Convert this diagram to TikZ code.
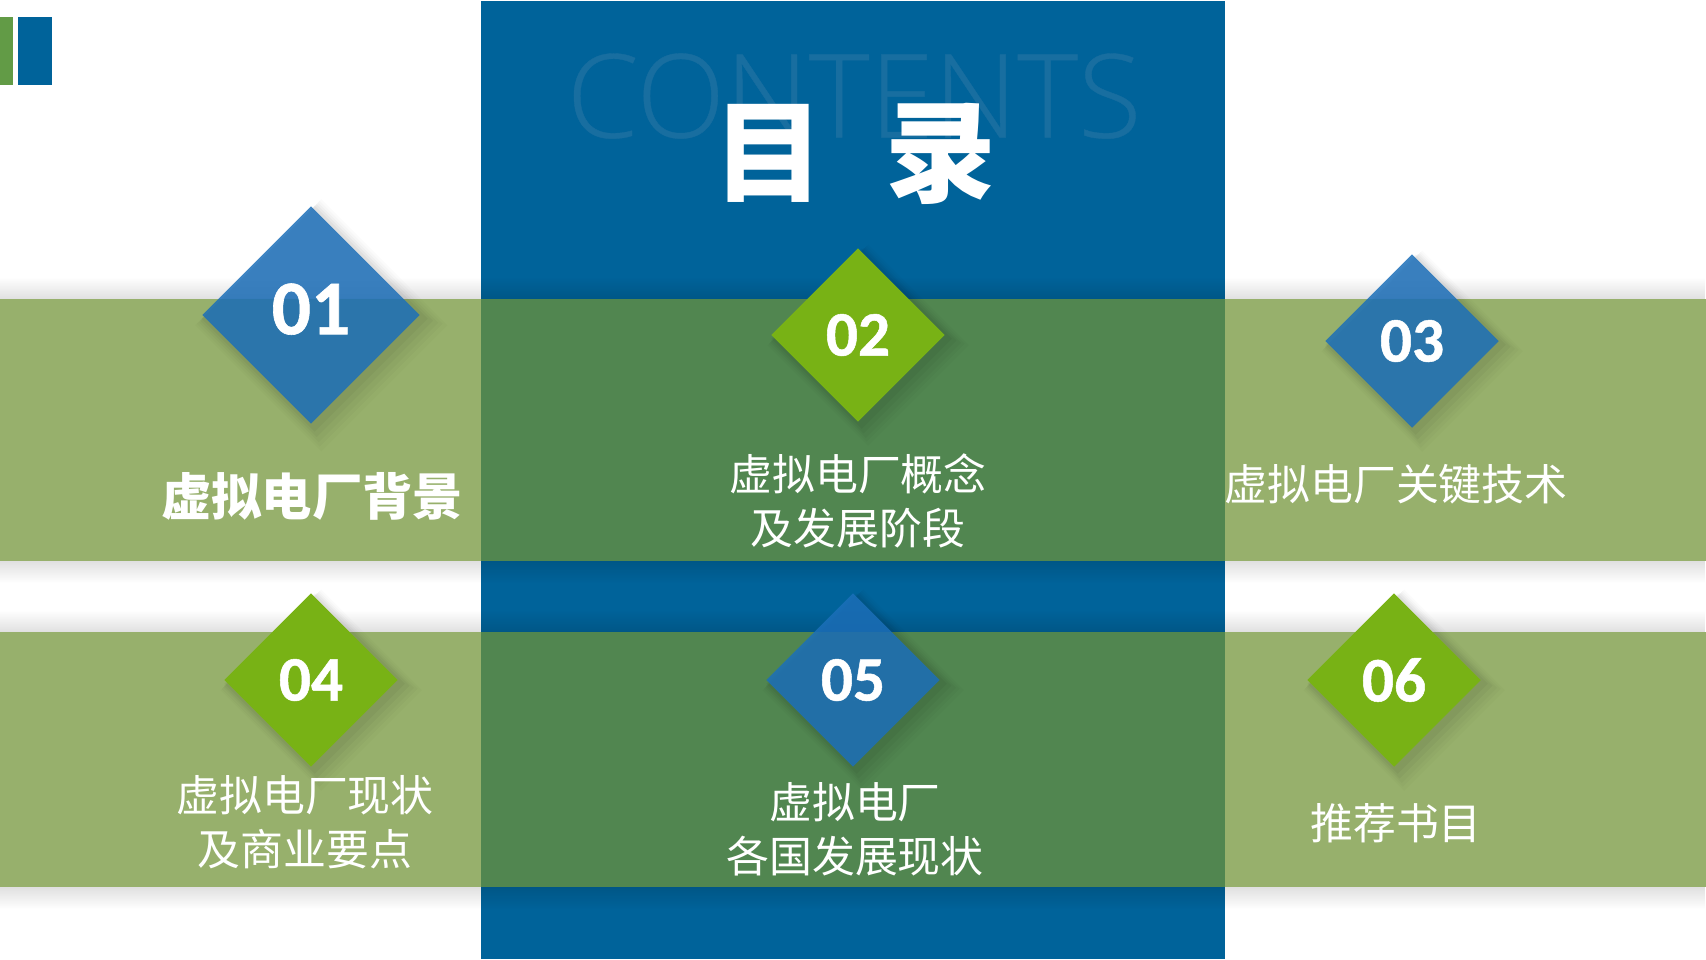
\documentclass[tikz,border=0pt]{standalone}
\usepackage{fontspec}
\setmainfont[BoldFeatures={FakeBold=.8}]{Carlito}
\newfontfamily\cjk{Noto Sans CJK SC}
\newfontfamily\light[FakeBold=.35]{Open Sans Light}
\usetikzlibrary{shapes.geometric,shadows,fadings}
\definecolor{colblue}{RGB}{0,99,154}
\definecolor{bandgreen}{RGB}{112,147,53}
\definecolor{tabgreen}{RGB}{98,155,70}
\definecolor{dblue}{RGB}{28,111,185}
\definecolor{dgreen}{RGB}{120,178,21}
\definecolor{ghost}{RGB}{24,110,160}
\tikzset{
softshadow/.style={
 general shadow={shadow xshift=2.5pt,shadow yshift=-2.5pt,shadow scale=1.16,fill=black,opacity=.015},
 general shadow={shadow xshift=2.2pt,shadow yshift=-2.2pt,shadow scale=1.13,fill=black,opacity=.02},
 general shadow={shadow xshift=2pt,shadow yshift=-2pt,shadow scale=1.10,fill=black,opacity=.025},
 general shadow={shadow xshift=1.5pt,shadow yshift=-1.5pt,shadow scale=1.07,fill=black,opacity=.03},
 general shadow={shadow xshift=1pt,shadow yshift=-1pt,shadow scale=1.04,fill=black,opacity=.04}},
gem/.style={shape=diamond,aspect=1,inner sep=0pt,softshadow,text=white,font=\bfseries\fontsize{18pt}{18pt}\selectfont},
biggem/.style={gem,font=\bfseries\fontsize{22pt}{22pt}\selectfont},
blue/.style={fill=dblue,fill opacity=.85,text opacity=1},
green/.style={fill=dgreen},
label/.style={text=white,align=center,font=\cjk\fontsize{12.2pt}{15.4pt}\selectfont}
}
\begin{document}
\begin{tikzpicture}[x=.01cm,y=-.01cm]
\useasboundingbox (0,0) rectangle (1706,959);
\fill[tabgreen] (0,17) rectangle (13,85);
\fill[colblue] (18,17) rectangle (52,85);
\fill[colblue] (481,1) rectangle (1225,959);
\node[text=ghost,font=\light\fontsize{33pt}{33pt}\selectfont] (contents) at (854,96) {CONTENTS};
\node[text=white,font=\cjk\bfseries\fontsize{31.5pt}{31.5pt}\selectfont] (title) at (855,154) {目\hspace{.55em}录};
% soft edges of the bands
\fill[black,opacity=.12,path fading=north] (0,277) rectangle (1706,299);
\fill[black,opacity=.12,path fading=south] (0,561) rectangle (1706,583);
\fill[black,opacity=.12,path fading=north] (0,610) rectangle (1706,632);
\fill[black,opacity=.12,path fading=south] (0,887) rectangle (1706,909);
\fill[bandgreen,fill opacity=.73] (0,299) rectangle (1706,561);
\fill[bandgreen,fill opacity=.73] (0,632) rectangle (1706,887);

\node[biggem,blue,minimum width=218*.01cm,minimum height=218*.01cm] (d1) at (311,315) {\raisebox{3.5pt}{01}};
\node[gem,green,minimum width=174*.01cm,minimum height=174*.01cm] (d2) at (858,335) {02};
\node[gem,blue,minimum width=174*.01cm,minimum height=174*.01cm] (d3) at (1412,341) {03};
\node[gem,green,minimum width=174*.01cm,minimum height=174*.01cm] (d4) at (311,680) {04};
\node[gem,blue,minimum width=174*.01cm,minimum height=174*.01cm] (d5) at (853,680) {05};
\node[gem,green,minimum width=174*.01cm,minimum height=174*.01cm] (d6) at (1394,680) {06};

\node[label,font=\cjk\bfseries\fontsize{14.3pt}{17pt}\selectfont] (l1) at (312,496) {虚拟电厂背景};
\node[label] (l2) at (858,501) {虚拟电厂概念\\及发展阶段};
\node[label] (l3) at (1396,484) {虚拟电厂关键技术};
\node[label] (l4) at (305,822) {虚拟电厂现状\\及商业要点};
\node[label] (l5) at (855,829) {虚拟电厂\\各国发展现状};
\node[label] (l6) at (1396,823) {推荐书目};
\end{tikzpicture}
\end{document}
